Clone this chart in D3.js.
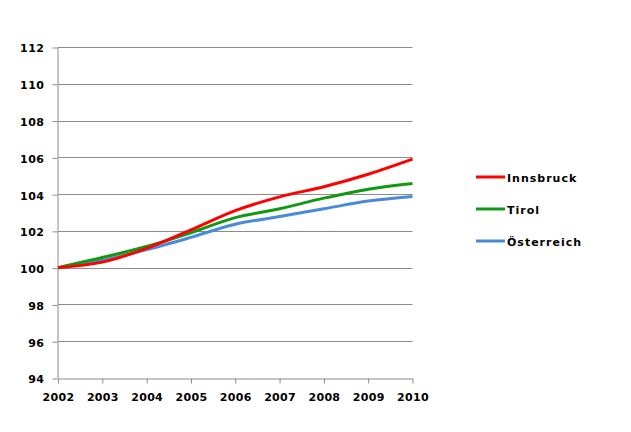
<!DOCTYPE html>
<html><head><meta charset="utf-8">
<script src="https://cdn.jsdelivr.net/npm/d3@7/dist/d3.min.js"></script>
<style>body{margin:0;background:#fff}</style>
</head><body>
<svg id="c" width="631" height="432"></svg>
<script>
const years = [2002,2003,2004,2005,2006,2007,2008,2009,2010];
const innsbruck = [100,100.3,101.05,102.05,103.1,103.85,104.4,105.08,105.9];
const tirol = [100,100.55,101.15,101.9,102.72,103.2,103.78,104.27,104.58];
const oesterreich = [100,100.4,100.98,101.65,102.36,102.78,103.2,103.62,103.87];
const seriesNames = ["Innsbruck","Tirol","Österreich"];
const seriesColors = ["#ff0000","#119911","#4a8ad8"];
const yTicks = [94,96,98,100,102,104,106,108,110,112];

const svg = d3.select("#c");
const font = "'DejaVu Sans', Verdana, sans-serif";
const x = d3.scaleLinear().domain([2002,2010]).range([58,412.5]);
const y = d3.scaleLinear().domain([94,112]).range([378,47]);

// gridlines
svg.append("g").selectAll("line").data(yTicks.filter(d=>d>94)).join("line")
  .attr("x1",x(2002)).attr("x2",x(2010))
  .attr("y1",d=>Math.round(y(d))+0.5).attr("y2",d=>Math.round(y(d))+0.5)
  .attr("stroke","#8c8c8c").attr("stroke-width",1);

// y axis
const ya = svg.append("g").attr("transform",`translate(${Math.round(x(2002))-0.5},0)`)
  .call(d3.axisLeft(y).tickValues(yTicks).tickSize(5).tickSizeOuter(0).tickPadding(8));
ya.select(".domain").attr("stroke","#8c8c8c");
ya.selectAll(".tick line").attr("stroke","#8c8c8c").attr("transform","translate(0,0.5)");
ya.selectAll("text").attr("font-family",font).attr("font-weight","bold").attr("font-size","11px")
  .attr("letter-spacing","0.5px").attr("dy","0.45em").attr("fill","#000");

// x axis
const xa = svg.append("g").attr("transform",`translate(0,${Math.round(y(94))+0.5})`)
  .call(d3.axisBottom(x).tickValues(years).tickFormat(d3.format("d")).tickSize(5).tickSizeOuter(0).tickPadding(10));
xa.select(".domain").attr("stroke","#8c8c8c");
xa.selectAll(".tick line").attr("stroke","#8c8c8c");
xa.selectAll("text").attr("font-family",font).attr("font-weight","bold").attr("font-size","11px")
  .attr("letter-spacing","0.3px").attr("fill","#000");

const data = [innsbruck, tirol, oesterreich];
const line = d3.line().x((d,i)=>x(years[i])).y(d=>y(d)).curve(d3.curveMonotoneX);
[2,1,0].forEach(k=>{
  svg.append("path").datum(data[k]).attr("d",line).attr("fill","none")
    .attr("stroke",seriesColors[k]).attr("stroke-width",3).attr("stroke-linejoin","round");
});

// legend
const ly = [177,209,241];
seriesNames.forEach((n,k)=>{
  svg.append("line").attr("x1",476).attr("x2",505).attr("y1",ly[k]).attr("y2",ly[k])
    .attr("stroke",seriesColors[k]).attr("stroke-width",3);
  svg.append("text").attr("x",507).attr("y",ly[k]+4.5)
    .attr("font-family",font).attr("font-weight","bold").attr("font-size","11px")
    .attr("letter-spacing","1px").attr("fill","#000").text(n);
});
</script>
</body></html>
